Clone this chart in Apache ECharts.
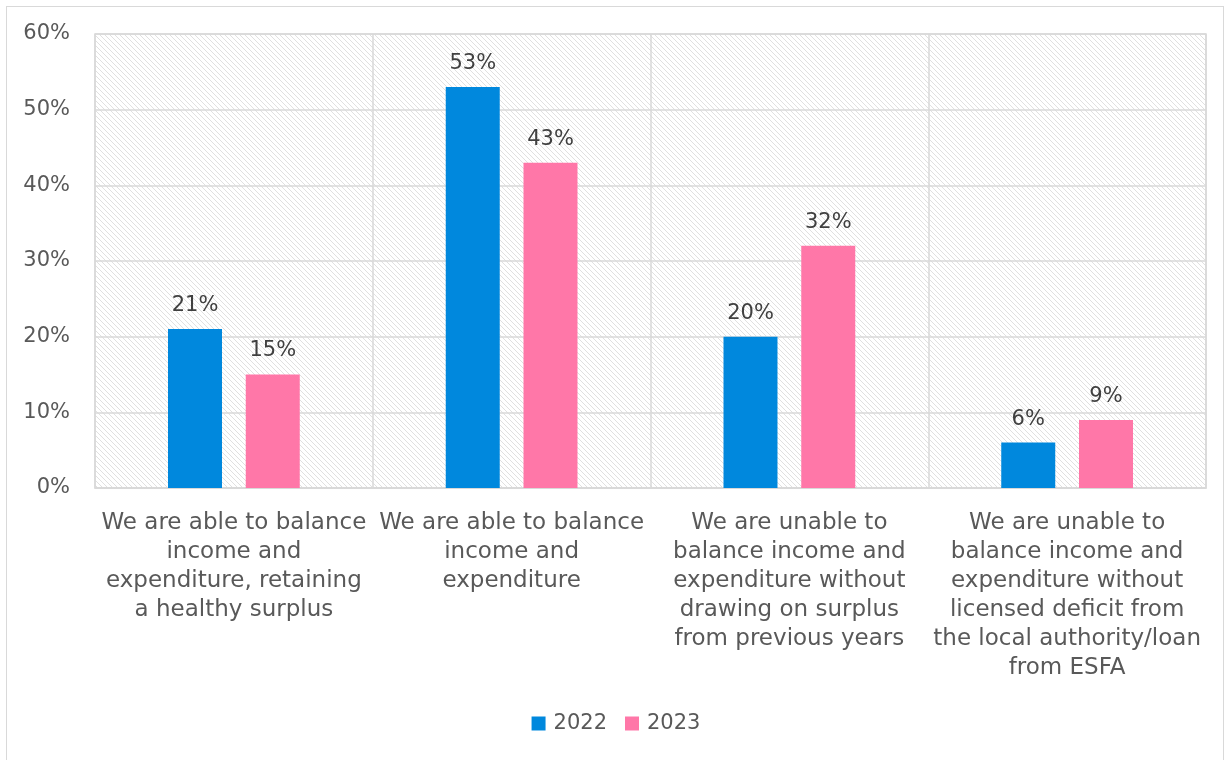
<!DOCTYPE html>
<html lang="en">

<head>
    <meta charset="UTF-8">
    <title>Balance income and expenditure</title>
    <script src="https://cdn.jsdelivr.net/npm/echarts@6/dist/echarts.min.js"></script>
    <style>
        html, body { margin: 0; padding: 0; background: #fff; }
        #frame { position: absolute; left: 6px; top: 6px; width: 1218px; height: 760px; border: 1px solid #d9d9d9; box-sizing: border-box; }
        #main { position: absolute; left: 0; top: 0; width: 1232px; height: 760px; }
    </style>
</head>

<body>
    <div id="frame"></div>
    <div id="main"></div>
    <script type="text/javascript">
        // data
        var categories = [
            'We are able to balance\nincome and\nexpenditure, retaining\na healthy surplus',
            'We are able to balance\nincome and\nexpenditure',
            'We are unable to\nbalance income and\nexpenditure without\ndrawing on surplus\nfrom previous years',
            'We are unable to\nbalance income and\nexpenditure without\nlicensed deficit from\nthe local authority/loan\nfrom ESFA'
        ];
        var values2022 = [21, 53, 20, 6];
        var values2023 = [15, 43, 32, 9];
        var yTicks = [0, 10, 20, 30, 40, 50, 60];

        // diagonal hatch for the plot background
        function makeHatch() {
            var c = document.createElement('canvas');
            c.width = 5;
            c.height = 5;
            var ctx = c.getContext('2d');
            ctx.fillStyle = '#fff';
            ctx.fillRect(0, 0, 5, 5);
            ctx.fillStyle = '#e0e0e0';
            for (var i = 0; i < 5; i++) {
                ctx.fillRect(i, i, 1, 1);
            }
            return c;
        }

        var font = '"DejaVu Sans", sans-serif';
        var myChart = echarts.init(document.getElementById('main'));

        // common label style for bar values
        var valueLabel = {
            show: true,
            position: 'top',
            distance: 13,
            formatter: '{c}%',
            fontSize: 21,
            color: '#404040',
            fontFamily: font
        };

        myChart.setOption({
            animation: false,
            textStyle: { fontFamily: font },
            grid: {
                left: 95,
                right: 26,
                top: 34,
                bottom: 272,
                show: true,
                backgroundColor: { image: makeHatch(), repeat: 'repeat' },
                borderColor: '#d9d9d9',
                borderWidth: 1.5
            },
            legend: {
                bottom: 21,
                left: 'center',
                itemWidth: 14,
                itemHeight: 14,
                itemGap: 18,
                icon: 'rect',
                textStyle: { fontSize: 21, color: '#595959', fontFamily: font, padding: [0, 0, 0, 3] },
                data: ['2022', '2023']
            },
            xAxis: {
                type: 'category',
                data: categories,
                axisLine: { lineStyle: { color: '#d9d9d9', width: 1.5 } },
                axisTick: { show: false },
                splitLine: { show: true, lineStyle: { color: '#d9d9d9', width: 1.5 } },
                axisLabel: {
                    interval: 0,
                    margin: 21,
                    fontSize: 23,
                    lineHeight: 29,
                    color: '#595959',
                    fontFamily: font,
                    align: 'center'
                }
            },
            yAxis: {
                type: 'value',
                min: yTicks[0],
                max: yTicks[yTicks.length - 1],
                interval: 10,
                axisLine: { show: false },
                axisTick: { show: false },
                splitLine: { lineStyle: { color: '#d9d9d9', width: 1.5 } },
                axisLabel: {
                    formatter: '{value}%',
                    margin: 25,
                    fontSize: 21,
                    color: '#595959',
                    fontFamily: font
                }
            },
            series: [{
                name: '2022',
                type: 'bar',
                data: values2022,
                barWidth: 54,
                barGap: '44%',
                itemStyle: { color: '#0088dd' },
                label: valueLabel
            }, {
                name: '2023',
                type: 'bar',
                data: values2023,
                barWidth: 54,
                itemStyle: { color: '#ff77a8' },
                label: valueLabel
            }]
        });
    </script>
</body>

</html>
